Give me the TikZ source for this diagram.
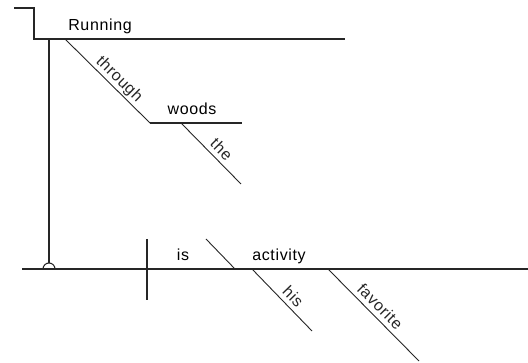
\documentclass[tikz,border=0pt]{standalone}
\usepackage{fontspec}
\setmainfont{Liberation Sans}[LetterSpace=4]
\begin{document}
\begin{tikzpicture}[x=1pt,y=-1pt,
  ln/.style={line width=1.1pt, black!85},
  dg/.style={line width=0.9pt, black!85},
  word/.style={font=\fontsize{16}{18}\selectfont, inner sep=0pt, anchor=base},
  slant/.style={font=\fontsize{16}{18}\selectfont, inner sep=0pt, sloped, above=5pt, anchor=base}]
\useasboundingbox (0,0) rectangle (528,363);
% coordinates
\coordinate (st0) at (14,8);
\coordinate (st1) at (34,8);
\coordinate (st2) at (34,39);
\coordinate (ru) at (345,39);
\coordinate (pt) at (49,39);
\coordinate (pb) at (49,263);
\coordinate (thA) at (65,39);
\coordinate (thB) at (150,123);
\coordinate (wo) at (242,123);
\coordinate (tA) at (181,123);
\coordinate (tB) at (241,184);
\coordinate (mL) at (22,269);
\coordinate (mR) at (528,269);
\coordinate (arcL) at (43,269);
\coordinate (dT) at (147,239);
\coordinate (dB) at (147,300);
\coordinate (bA) at (206,239);
\coordinate (bB) at (235,269);
\coordinate (hA) at (252,269);
\coordinate (hB) at (312,331);
\coordinate (fA) at (328,269);
\coordinate (fB) at (419,361);
% lines
\draw[ln] (st0) -- (st1) -- (st2) -- (ru);
\draw[ln] (pt) -- (pb);
\draw[ln] (mL) -- (mR);
\draw[ln] (arcL) arc[start angle=180, end angle=360, radius=6];
\draw[ln] (dT) -- (dB);
\draw[dg] (bA) -- (bB);
\draw[dg] (thA) -- node[slant, pos=.56] (through) {through} (thB);
\draw[ln] (thB) -- (wo);
\draw[dg] (tA) -- node[slant, pos=.55] (the) {the} (tB);
\draw[dg] (hA) -- node[slant, pos=.56] (his) {his} (hB);
\draw[dg] (fA) -- node[slant, pos=.49] (favorite) {favorite} (fB);
% words
\node[word] (running) at (100,31) {Running};
\node[word] (woods) at (192,115) {woods};
\node[word] (is) at (183,261) {is};
\node[word] (activity) at (279,261) {activity};
\end{tikzpicture}
\end{document}
